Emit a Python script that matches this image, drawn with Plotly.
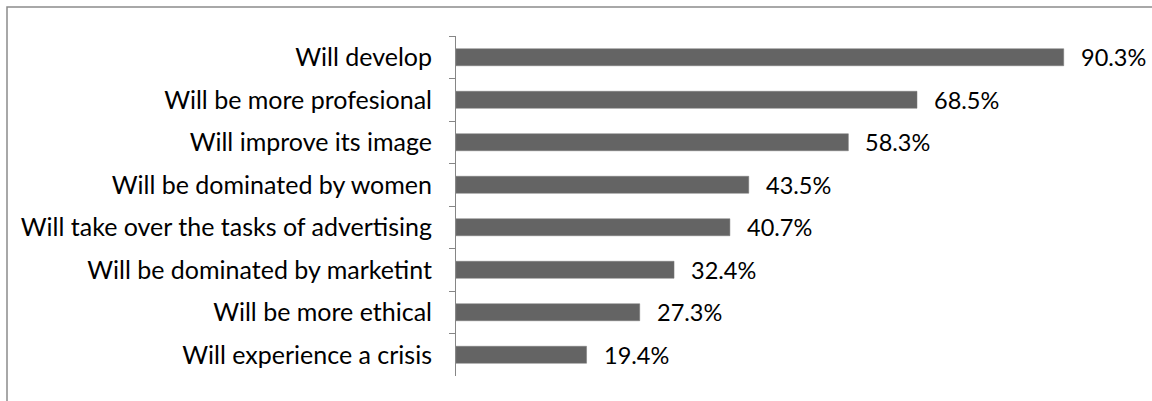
import plotly.graph_objects as go

categories = [
    "Will develop",
    "Will be more profesional",
    "Will improve its image",
    "Will be dominated by women",
    "Will take over the tasks of advertising",
    "Will be dominated by marketint",
    "Will be more ethical",
    "Will experience a crisis",
]
values = [90.3, 68.5, 58.3, 43.5, 40.7, 32.4, 27.3, 19.4]
value_labels = [f"{v:.1f}%" for v in values]

W, H = 1152, 401
L, R, T, B = 456, 23, 36, 25
pw, ph = W - L - R, H - T - B

fig = go.Figure(go.Bar(
    x=values, y=categories, orientation="h",
    marker=dict(color="#646464", line=dict(color="#7a7a7a", width=0.5)),
    width=0.4,
    hoverinfo="skip",
))

for v, c, lab in zip(values, categories, value_labels):
    fig.add_annotation(
        x=v, y=c, xref="x", yref="y", text=lab, showarrow=False,
        xanchor="left", yanchor="middle", xshift=15,
        font=dict(family="Lato", size=23.5, color="#000000"),
    )

fig.update_layout(
    width=W, height=H,
    margin=dict(l=L, r=R, t=T, b=B, autoexpand=False),
    paper_bgcolor="white", plot_bgcolor="white",
    showlegend=False,
    font=dict(family="Lato", size=25, color="#000000"),
    xaxis=dict(range=[0, 100], visible=False, showgrid=False, zeroline=False),
    yaxis=dict(
        autorange="reversed", type="category",
        showline=True, linecolor="#868686", linewidth=1,
        ticks="outside", ticklen=6, tickcolor="#868686", tickson="boundaries",
        ticklabelstandoff=18,
        tickfont=dict(family="Lato", size=25, color="#000000"),
        showgrid=False, zeroline=False,
    ),
    shapes=[dict(
        type="rect", xref="paper", yref="paper",
        x0=(7 - L) / pw, x1=(W + 20 - L) / pw,
        y0=-(B + 20) / ph, y1=1 + (T - 7) / ph,
        line=dict(color="#8c8c8c", width=1.5), fillcolor="rgba(0,0,0,0)",
        layer="below",
    )],
)

fig.write_html(
    "out.html",
    config={"displayModeBar": False},
    post_script="document.body.style.margin='0';document.body.style.overflow='hidden';",
)
